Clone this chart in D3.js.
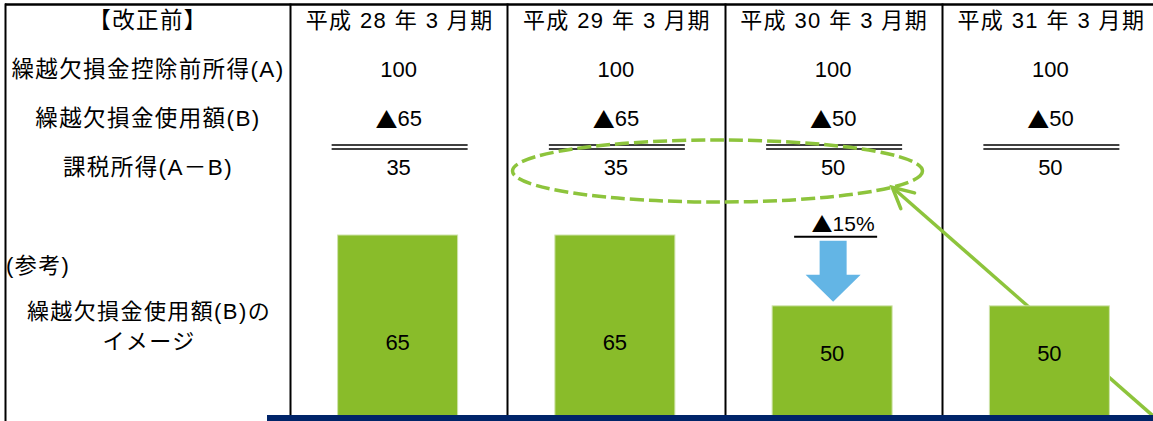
<!DOCTYPE html>
<html>
<head>
<meta charset="utf-8">
<script src="https://cdn.jsdelivr.net/npm/d3@7"></script>
<style>
    body { margin: 0; background: #fff; }
    svg text { font-family: 'Liberation Sans', 'Noto Sans CJK JP', sans-serif; fill: #000; }
    .cjk { letter-spacing: 1.4px; }
    .tri { font-family: 'Noto Sans CJK JP', sans-serif; }
</style>
</head>
<body>
<div id="chart"></div>
<script>
// periods (columns)
const periods = ["平成 28 年 3 月期", "平成 29 年 3 月期", "平成 30 年 3 月期", "平成 31 年 3 月期"];
// table rows
const rowLabels = ["【改正前】", "繰越欠損金控除前所得(A)", "繰越欠損金使用額(B)", "課税所得(A－B)"];
const incomeA = [100, 100, 100, 100];
const usedB = [65, 65, 50, 50];
const taxable = [35, 35, 50, 50];
// lower part labels
const refLabel = "(参考)";
const imageLabel = ["繰越欠損金使用額(B)の", "イメージ"];
const cutPct = "15%";

const width = 1153, height = 421;

const svg = d3.select("#chart").append("svg")
    .attr("width", width)
    .attr("height", height);

const green = "#89bc2a", lineGreen = "#8dc43c";

// column scale
let x = d3.scaleBand().domain(periods).range([290, 1159]);
let bw = x.bandwidth();
let cx = function(p) { return x(p) + bw / 2; };

// row scale
let rowY = d3.scalePoint().domain(rowLabels).range([20, 167]);

// bar value scale (baseline is below the visible area)
let y = d3.scaleLinear().domain([0, 65]).range([542, 235]);

// frame lines
svg.append("line")
    .attr("x1", 5).attr("x2", width).attr("y1", 4.5).attr("y2", 4.5)
    .attr("stroke", "#000").attr("stroke-width", 2.5);
svg.append("line")
    .attr("x1", 5.5).attr("x2", 5.5).attr("y1", 3.5).attr("y2", height)
    .attr("stroke", "#000").attr("stroke-width", 2);
svg.selectAll(".divider")
    .data(periods)
    .enter()
    .append("line")
    .attr("class", "divider")
    .attr("x1", function(d) { return Math.round(x(d)) + 0.5; })
    .attr("x2", function(d) { return Math.round(x(d)) + 0.5; })
    .attr("y1", 3.5).attr("y2", height)
    .attr("stroke", "#000").attr("stroke-width", 2);

// row labels
let labelX = 148;
svg.selectAll(".rowLabel")
    .data(rowLabels)
    .enter()
    .append("text")
    .attr("class", "rowLabel cjk")
    .attr("x", labelX)
    .attr("y", function(d) { return rowY(d); })
    .attr("text-anchor", "middle")
    .attr("dominant-baseline", "central")
    .style("font-size", "22.5px")
    .text(function(d) { return d; });

// header
svg.selectAll(".header")
    .data(periods)
    .enter()
    .append("text")
    .attr("class", "header cjk")
    .attr("x", function(d) { return cx(d) + 1; })
    .attr("y", rowY(rowLabels[0]))
    .attr("text-anchor", "middle")
    .attr("dominant-baseline", "central")
    .style("font-size", "22px")
    .text(function(d) { return d; });

// value rows
let rows = [
    {row: rowLabels[1], values: incomeA, tri: false},
    {row: rowLabels[2], values: usedB, tri: true},
    {row: rowLabels[3], values: taxable, tri: false}
];
rows.forEach(function(r) {
    let txt = svg.selectAll(null)
        .data(r.values)
        .enter()
        .append("text")
        .attr("x", function(d, i) { return cx(periods[i]); })
        .attr("y", rowY(r.row))
        .attr("text-anchor", "middle")
        .attr("dominant-baseline", "central")
        .style("font-size", "22px");
    if (r.tri) {
        txt.append("tspan").attr("class", "tri").text("▲");
    }
    txt.append("tspan").text(function(d) { return d; });
});

// double lines above the A-B row
let dblY = rowY(rowLabels[3]) - 22;
[0, 4].forEach(function(off) {
    svg.selectAll(null)
        .data(periods)
        .enter()
        .append("line")
        .attr("x1", function(d) { return cx(d) - 67; })
        .attr("x2", function(d) { return cx(d) + 69; })
        .attr("y1", dblY + off).attr("y2", dblY + off)
        .attr("stroke", "#000").attr("stroke-width", 1.5);
});

// lower labels
svg.append("text")
    .attr("class", "cjk")
    .attr("x", 6)
    .attr("y", 265)
    .attr("dominant-baseline", "central")
    .style("font-size", "22px")
    .text(refLabel);
svg.selectAll(".imgLabel")
    .data(imageLabel)
    .enter()
    .append("text")
    .attr("class", "imgLabel cjk")
    .attr("x", labelX + 1)
    .attr("y", function(d, i) { return 311 + i * 30; })
    .attr("text-anchor", "middle")
    .attr("dominant-baseline", "central")
    .style("font-size", "22px")
    .text(function(d) { return d; });

// dashed ellipse around the taxable values of 29 / 30
let ell = {cx: x(periods[2]) - 7, cy: rowY(rowLabels[3]) + 4, rx: 205, ry: 31};
svg.append("ellipse")
    .attr("cx", ell.cx).attr("cy", ell.cy)
    .attr("rx", ell.rx).attr("ry", ell.ry)
    .attr("fill", "none")
    .attr("stroke", lineGreen)
    .attr("stroke-width", 3.5)
    .attr("stroke-dasharray", "14,5");

// green arrow from the lower right to the ellipse
let t = 0.55;
let tip = [ell.cx + ell.rx * Math.cos(t), ell.cy + ell.ry * Math.sin(t)];
let tail = [1160, 422];
let ang = Math.atan2(tail[1] - tip[1], tail[0] - tip[0]);
let armLen = 23, armAng = 27 * Math.PI / 180;
svg.append("line")
    .attr("x1", tail[0]).attr("y1", tail[1])
    .attr("x2", tip[0]).attr("y2", tip[1])
    .attr("stroke", lineGreen).attr("stroke-width", 3.5);
svg.append("path")
    .attr("d", "M" + (tip[0] + armLen * Math.cos(ang - armAng)) + "," + (tip[1] + armLen * Math.sin(ang - armAng)) +
        "L" + tip[0] + "," + tip[1] +
        "L" + (tip[0] + armLen * Math.cos(ang + armAng)) + "," + (tip[1] + armLen * Math.sin(ang + armAng)))
    .attr("fill", "none")
    .attr("stroke", lineGreen).attr("stroke-width", 3.5)
    .attr("stroke-linecap", "round");

// bars (B)
let barW = 120;
svg.selectAll(".bar")
    .data(usedB)
    .enter()
    .append("rect")
    .attr("class", "bar")
    .attr("x", function(d, i) { return cx(periods[i]) - barW / 2 - 1; })
    .attr("y", function(d) { return y(d); })
    .attr("width", barW)
    .attr("height", function(d) { return y(0) - y(d); })
    .attr("fill", green)
    .attr("stroke", "#cfe3ab")
    .attr("stroke-width", 1);

svg.selectAll(".barLabel")
    .data(usedB)
    .enter()
    .append("text")
    .attr("class", "barLabel")
    .attr("x", function(d, i) { return cx(periods[i]) - 1; })
    .attr("y", function(d) { return y(d) / 6 + 303; })
    .attr("text-anchor", "middle")
    .attr("dominant-baseline", "central")
    .style("font-size", "22px")
    .text(function(d) { return d; });

// blue down arrow with ▲15%
let ax = cx(periods[2]);
let tipY = y(usedB[2]) - 4;
svg.append("path")
    .attr("d", d3.line()([
        [ax - 13.5, tipY - 61], [ax + 13.5, tipY - 61], [ax + 13.5, tipY - 27],
        [ax + 27.5, tipY - 27], [ax, tipY], [ax - 27.5, tipY - 27], [ax - 13.5, tipY - 27]
    ]) + "Z")
    .attr("fill", "#63b5e5");
svg.append("line")
    .attr("x1", ax - 39).attr("x2", ax + 44)
    .attr("y1", tipY - 65).attr("y2", tipY - 65)
    .attr("stroke", "#000").attr("stroke-width", 2);
let cut = svg.append("text")
    .attr("x", ax + 10)
    .attr("y", tipY - 79)
    .attr("text-anchor", "middle")
    .attr("dominant-baseline", "central")
    .style("font-size", "21px");
cut.append("tspan").attr("class", "tri").text("▲");
cut.append("tspan").text(cutPct);

// navy base line
svg.append("rect")
    .attr("x", x.range()[0] - 23)
    .attr("y", 415)
    .attr("width", width - x.range()[0] + 23)
    .attr("height", 6)
    .attr("fill", "#002469");
</script>
</body>
</html>
